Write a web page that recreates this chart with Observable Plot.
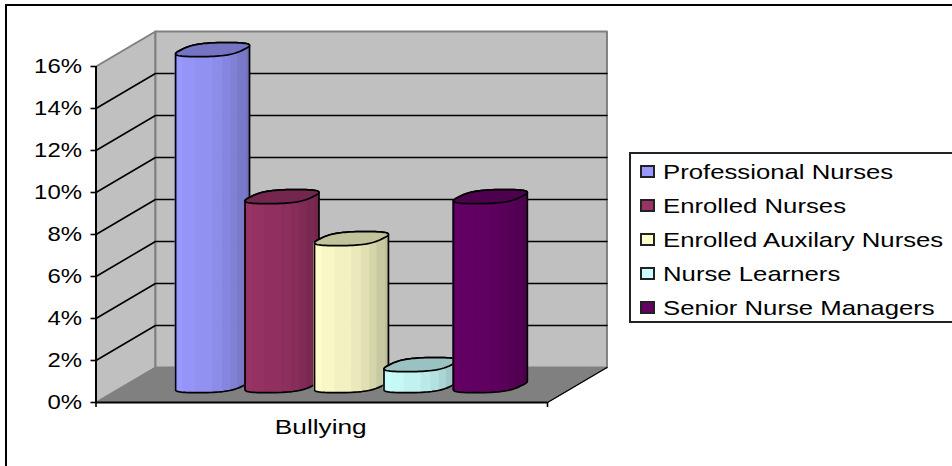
<!DOCTYPE html>
<html>
<head>
<meta charset="utf-8">
<script src="https://cdn.jsdelivr.net/npm/d3@7"></script>
<script src="https://cdn.jsdelivr.net/npm/@observablehq/plot@0.6"></script>
<style>
html,body{margin:0;padding:0;background:#fff;overflow:hidden;width:952px;height:466px}
#frame{position:absolute;left:5px;top:4px;width:947px;height:462px;border-left:2px solid #000;border-top:2px solid #000;box-sizing:border-box}
#chart{position:absolute;left:0;top:0}
#legend{position:absolute;left:629px;top:152px;width:323px;height:171px;box-sizing:border-box;border:2px solid #222;border-right:none;font-family:"Liberation Sans",Arial,sans-serif;font-size:21px;color:#000}
.row{position:absolute;left:0;height:20px;line-height:20px;white-space:nowrap}
.sw{position:absolute;left:9px;top:3px;width:15px;height:13px;box-sizing:border-box;border:2px solid #222}
.tx{position:absolute;left:32px;top:0;transform:scaleX(1.225);transform-origin:left center}
</style>
</head>
<body>
<div id="frame"></div>
<div id="chart"></div>
<div id="legend"></div>
<script>
const categoryLabels = ["Bullying"];
const seriesNames = ["Professional Nurses", "Enrolled Nurses", "Enrolled Auxilary Nurses", "Nurse Learners", "Senior Nurse Managers"];
const seriesValues = [16, 9, 7, 1, 9];
const seriesColors = ["#9999FF", "#993366", "#FFFFCC", "#CCFFFF", "#660066"];
const yTicks = [0, 2, 4, 6, 8, 10, 12, 14, 16];
const yMax = 16;

// chart space: x in series slots, y in percent, z = depth from front (0) to back (1)
const slots = 6.5, gap = 0.75;
const depthX = 0.856, depthY = 1.667;
const proj = (x, y, z) => ({x: x + z * depthX, y: y + z * depthY});
const path = pts => pts.map(([x, y, z]) => proj(x, y, z));

const wall = {fill: "#c0c0c0", stroke: "#808080", strokeWidth: 2, x: "x", y: "y"};
const marks = [];
marks.push(Plot.line(path([[0,0,0],[slots,0,0],[slots,0,1],[0,0,1],[0,0,0]]), {x:"x", y:"y", fill:"#808080", stroke:"#808080", strokeWidth:1}));
marks.push(Plot.line(path([[0,0,0],[0,yMax,0],[0,yMax,1],[0,0,1],[0,0,0]]), wall));
marks.push(Plot.line(path([[0,0,1],[0,yMax,1],[slots,yMax,1],[slots,0,1],[0,0,1]]), wall));
for (const t of yTicks.filter(t => t > 0 && t < yMax)) {
  marks.push(Plot.line(path([[0,t,0],[0,t,1],[slots,t,1]]), {x:"x", y:"y", stroke:"#000", strokeWidth:1.6}));
}
marks.push(Plot.line(path([[slots,0,0],[slots,0,1]]), {x:"x", y:"y", stroke:"#000", strokeWidth:1.4}));

// cylinders: rounded section in the projected floor plane
const ux = 0.44, vx = 0.20, vy = 0.333, cz = 0.5, halfWidth = 0.532, round = 0.68;
const sp = u => Math.sign(u) * Math.abs(u) ** round;
const rawX = t => ux * sp(Math.cos(t)) + vx * sp(Math.sin(t));
const ts = d3.range(0, 720).map(j => j / 720 * Math.PI * 2);
const tR = d3.greatest(ts, rawX);
const norm = halfWidth / rawX(tR);
const shade = (c, f) => { const r = d3.rgb(c); return d3.rgb(r.r*f, r.g*f, r.b*f).formatHex(); };
seriesValues.forEach((v, i) => {
  const c = proj(gap + i + 0.5, -0.03, cz);
  const ring = (t, h) => ({x: c.x + norm * rawX(t), y: c.y + h + vy * sp(Math.sin(t))});
  const N = 9, strips = [];
  for (let k = 0; k < N; k++) {
    const f = 1 - 0.26 * Math.pow(k / (N - 1), 1.6);
    const col = shade(seriesColors[i], f);
    for (const j of [k, k + 1]) {
      const t = tR + Math.PI + Math.PI * j / N;
      const p = ring(t, 0);
      strips.push({x: p.x, y1: p.y, y2: p.y + v, k, col});
    }
  }
  marks.push(Plot.area(strips, {x1:"x", y1:"y1", y2:"y2", z:"k", fill:"col", stroke:"col", strokeWidth:1.2, curve:"linear"}));
  const front = d3.range(0, 37).map(j => ring(tR + Math.PI + Math.PI*j/36, 0));
  const back = d3.range(0, 37).map(j => ring(tR + Math.PI*j/36, v));
  marks.push(Plot.line([...front, ...back, front[0]], {x:"x", y:"y", stroke:"#000", strokeWidth:1.7}));
  const top = d3.range(0, 73).map(j => ring(Math.PI*2*j/72, v));
  marks.push(Plot.line(top, {x:"x", y:"y", fill:shade(seriesColors[i], 0.76), stroke:"#000", strokeWidth:1.7}));
});

marks.push(Plot.ruleX([0], {y1:0, y2:yMax, stroke:"#000", strokeWidth:2}));
marks.push(Plot.ruleY([0], {x1:0, x2:slots, stroke:"#000", strokeWidth:2}));
marks.push(Plot.axisY(yTicks, {anchor:"left", tickSize:5, tickPadding:9, strokeWidth:1.6, stroke:"#000", fill:"#000", fontSize:21, tickFormat:d => d + "%", label:null}));
marks.push(Plot.axisX([0, slots], {anchor:"bottom", tickSize:5, strokeWidth:1.6, stroke:"#000", tickFormat:() => "", label:null}));
marks.push(Plot.text(categoryLabels, {x:() => slots / 2, y:() => 0, dx:-1, dy:25, fontSize:21, fill:"#000", text:d => d}));

const plot = Plot.plot({
  width: 952, height: 466,
  marginLeft: 95.5, marginRight: 405, marginTop: 66, marginBottom: 64,
  style: {background: "transparent", fontFamily: '"Liberation Sans",Arial,sans-serif', overflow: "visible"},
  x: {type:"linear", domain:[0, slots], axis:null},
  y: {type:"linear", domain:[0, yMax], axis:null},
  color: {type:"identity"},
  marks
});
document.getElementById("chart").appendChild(plot);
plot.querySelectorAll("text").forEach(t => {
  const len = t.getComputedTextLength();
  const s = t.textContent.includes("%") ? 1.14 : 1.25;
  if (len > 0) { t.setAttribute("textLength", (len * s).toFixed(1)); t.setAttribute("lengthAdjust", "spacingAndGlyphs"); }
});

const legend = document.getElementById("legend");
seriesNames.forEach((name, i) => {
  const row = document.createElement("div");
  row.className = "row";
  row.style.top = (8 + i * 34) + "px";
  row.innerHTML = '<span class="sw" style="background:' + seriesColors[i] + '"></span><span class="tx"></span>';
  row.querySelector(".tx").textContent = name;
  legend.appendChild(row);
});
</script>
</body>
</html>
